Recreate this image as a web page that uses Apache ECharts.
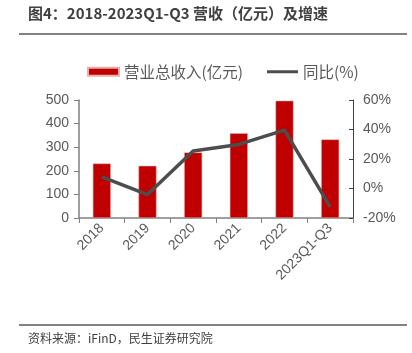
<!DOCTYPE html>
<html>
<head>
<meta charset="utf-8">
<script src="https://cdn.jsdelivr.net/npm/echarts@6/dist/echarts.min.js"></script>
<style>
  html, body { margin: 0; padding: 0; background: #fff; }
  #chart { width: 412px; height: 353px; }
</style>
</head>
<body>
<div id="chart"></div>
<script>
const categories = ['2018', '2019', '2020', '2021', '2022', '2023Q1-Q3'];
const revenue = [231, 221, 278, 359, 497, 333];
const growth = [7.9, -4.1, 25.4, 29.9, 39.6, -12.5];
const leftTicks = [0, 100, 200, 300, 400, 500];
const rightTicks = [-20, 0, 20, 40, 60];

const chart = echarts.init(document.getElementById('chart'));
const font = '"Liberation Sans", Arial, "Noto Sans CJK SC", sans-serif';
const cjk = '"Noto Sans CJK SC", sans-serif';

chart.setOption({
  animation: false,
  textStyle: { fontFamily: font },
  graphic: [
    { type: 'text', left: 28, top: 6, style: { text: '图4：2018-2023Q1-Q3 营收（亿元）及增速', fill: '#404040', font: 'bold 15px ' + cjk } },
    { type: 'line', shape: { x1: 19, y1: 34, x2: 407, y2: 34 }, style: { stroke: '#595959', lineWidth: 1.5 } },
    { type: 'line', shape: { x1: 19, y1: 325, x2: 407, y2: 325 }, style: { stroke: '#595959', lineWidth: 1.5 } },
    { type: 'text', left: 28, top: 332, style: { text: '资料来源：iFinD，民生证券研究院', fill: '#404040', font: '12px ' + cjk } }
  ],
  legend: {
    top: 59,
    left: 82,
    itemGap: 24,
    itemWidth: 31,
    itemHeight: 8,
    textStyle: { fontSize: 15.5, color: '#595959', fontFamily: cjk },
    data: [
      { name: '营业总收入(亿元)', icon: 'rect' },
      { name: '同比(%)', icon: 'path://M0,0 L31,0 L31,3 L0,3 Z' }
    ]
  },
  grid: { left: 79, right: 59, top: 100, bottom: 135 },
  xAxis: {
    type: 'category',
    data: categories,
    axisLine: { lineStyle: { color: '#808080', width: 1.5 } },
    axisTick: { show: true, length: 5, lineStyle: { color: '#808080' } },
    axisLabel: { rotate: 45, color: '#595959', fontSize: 14, margin: 8 }
  },
  yAxis: [
    {
      type: 'value', min: 0, max: 500, interval: 100,
      axisLine: { show: true, lineStyle: { color: '#808080', width: 1.5 } },
      axisTick: { show: true, length: 5, lineStyle: { color: '#808080' } },
      axisLabel: { color: '#595959', fontSize: 14, margin: 10 },
      splitLine: { show: false }
    },
    {
      type: 'value', min: -20, max: 60, interval: 20,
      axisLine: { show: true, lineStyle: { color: '#404040', width: 1 } },
      axisTick: { show: true, inside: true, length: 4, lineStyle: { color: '#404040' } },
      axisLabel: { color: '#595959', fontSize: 14, margin: 10, formatter: '{value}%' },
      splitLine: { show: false }
    }
  ],
  series: [
    {
      name: '营业总收入(亿元)',
      type: 'bar',
      data: revenue,
      barWidth: 18,
      itemStyle: { color: '#C00000', borderColor: '#E8B0B0', borderWidth: 0.5 }
    },
    {
      name: '同比(%)',
      type: 'line',
      yAxisIndex: 1,
      data: growth,
      symbol: 'none',
      lineStyle: { color: '#4D4D4D', width: 3.5 },
      itemStyle: { color: '#4D4D4D' }
    }
  ]
});
</script>
</body>
</html>
